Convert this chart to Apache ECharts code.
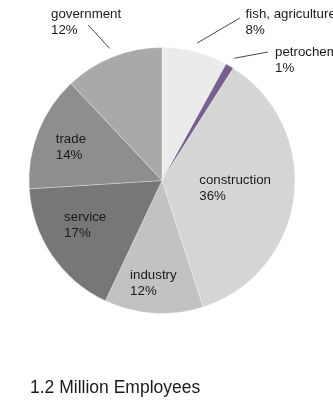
<!DOCTYPE html>
<html>
<head>
<meta charset="utf-8">
<script src="https://cdn.jsdelivr.net/npm/echarts@6/dist/echarts.min.js"></script>
<style>
  html, body { margin: 0; padding: 0; background: #ffffff; }
  #chart { width: 333px; height: 402px; }
</style>
</head>
<body>
<div id="chart"></div>
<script>
// Employment by sector (share of 1.2 million employees)
const sectors = ['fish, agriculture', 'petrochemical', 'construction', 'industry', 'service', 'trade', 'government'];
const shares = [8, 1, 36, 12, 17, 14, 12];
const chartTitle = '1.2 Million Employees';

// Slice fills, in sector order
const sliceColors = ['#ebebeb', '#775f8e', '#d5d5d5', '#c2c2c2', '#777777', '#8e8e8e', '#a9a9a9'];

// Pie geometry
const CX = 162, CY = 180.5, R = 133;
const FONT = '"Liberation Sans", Helvetica, Arial, sans-serif';

// Label placement: block centre as [radius factor, angle shift from slice middle];
// outside labels also get a leader line ending at lineTo.
const placement = [
  { at: [1.531, 24.8], lineTo: [1.355, 11.2] },
  { at: [1.471, 21.5], lineTo: [1.252, 8.9] },
  { at: [0.553, -0.7] },
  { at: [0.774, 1.2] },
  { at: [0.669, 3.9] },
  { at: [0.729, -1.6] },
  { at: [1.316, -4.1], lineTo: [1.295, -3.8] }
];

const total = shares.reduce((a, b) => a + b, 0);
function midAngle(i) {
  let before = 0;
  for (let k = 0; k < i; k++) before += shares[k];
  return (before + shares[i] / 2) / total * 360;
}
function polar(f, deg) {
  const t = deg * Math.PI / 180;
  return [CX + f * R * Math.sin(t), CY - f * R * Math.cos(t)];
}

const pieData = sectors.map((name, i) => ({
  name: name,
  value: shares[i],
  itemStyle: { color: sliceColors[i] },
  label: { position: placement[i].lineTo ? 'outside' : 'inside' },
  labelLine: { show: !!placement[i].lineTo }
}));

const chart = echarts.init(document.getElementById('chart'), null, { renderer: 'canvas' });
chart.setOption({
  animation: false,
  backgroundColor: '#ffffff',
  title: {
    text: chartTitle,
    left: 30,
    top: 379,
    padding: 0,
    textStyle: { fontFamily: FONT, fontSize: 17.5, fontWeight: 'normal', color: '#1a1a1a' }
  },
  series: [{
    type: 'pie',
    center: [CX, CY],
    radius: R,
    startAngle: 90,
    clockwise: true,
    avoidLabelOverlap: false,
    silent: true,
    data: pieData,
    itemStyle: { borderColor: 'rgba(255,255,255,0.5)', borderWidth: 0.6 },
    label: {
      show: true,
      fontFamily: FONT,
      fontSize: 13.3,
      lineHeight: 16,
      color: '#1a1a1a',
      overflow: 'none',
      formatter: p => p.name + '\n' + Math.round(p.percent) + '%'
    },
    labelLine: {
      show: true,
      length: 10,
      length2: 0,
      smooth: false,
      lineStyle: { color: '#1a1a1a', width: 0.8 }
    },
    labelLayout: function (p) {
      const i = p.dataIndex;
      const mid = midAngle(i);
      const spec = placement[i];
      const c = polar(spec.at[0], mid + spec.at[1]);
      const out = {
        x: c[0] - p.labelRect.width / 2,
        y: c[1],
        align: 'left',
        verticalAlign: 'middle'
      };
      if (spec.lineTo) {
        const s = polar((R + 9) / R, mid);
        const e = polar(spec.lineTo[0], mid + spec.lineTo[1]);
        out.labelLinePoints = [s, e];
      }
      return out;
    }
  }]
});
</script>
</body>
</html>
